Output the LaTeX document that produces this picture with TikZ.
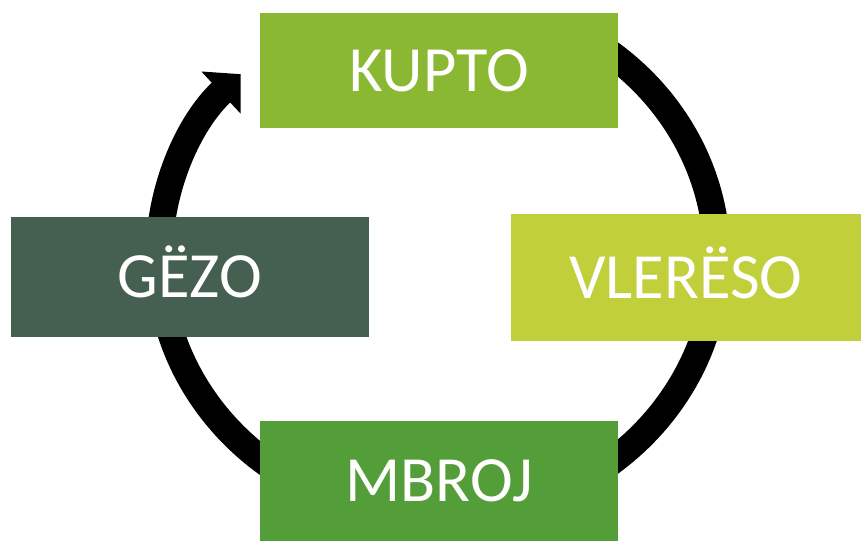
\documentclass[tikz,border=0pt]{standalone}
\usepackage{fontspec}
\setmainfont{Carlito}
\usetikzlibrary{arrows.meta}
\definecolor{kuptoC}{HTML}{8AB833}
\definecolor{vleresoC}{HTML}{C0CF3A}
\definecolor{gezoC}{HTML}{455F51}
\definecolor{mbrojC}{HTML}{549E39}
\tikzset{
  stepbox/.style={rectangle, draw=none, inner sep=0pt, text=white,
    font=\fontsize{64.5}{70}\selectfont, text height=41.5pt, text depth=0pt},
  cyclearrow/.style={draw=black, line width=27pt,
    -{Triangle[width=56pt,length=27pt]}}
}
\begin{document}
\begin{tikzpicture}[x=1pt,y=1pt]
\useasboundingbox (0,0) rectangle (861,542);
\coordinate (c) at (438,284);
\draw[cyclearrow] (c) ++(60:279 and 260)
  arc[start angle=60, end angle=-225, x radius=279pt, y radius=260pt];
\node[stepbox, fill=kuptoC, minimum width=358pt, minimum height=115pt] (kupto) at (439,471.5) {KUPTO};
\node[stepbox, fill=vleresoC, minimum width=350pt, minimum height=127pt] (vlereso) at (686,264.5) {VLERËSO};
\node[stepbox, fill=gezoC, minimum width=358pt, minimum height=120pt] (gezo) at (190,265) {GËZO};
\node[stepbox, fill=mbrojC, minimum width=358pt, minimum height=120pt] (mbroj) at (439,61) {MBROJ};
\end{tikzpicture}
\end{document}
